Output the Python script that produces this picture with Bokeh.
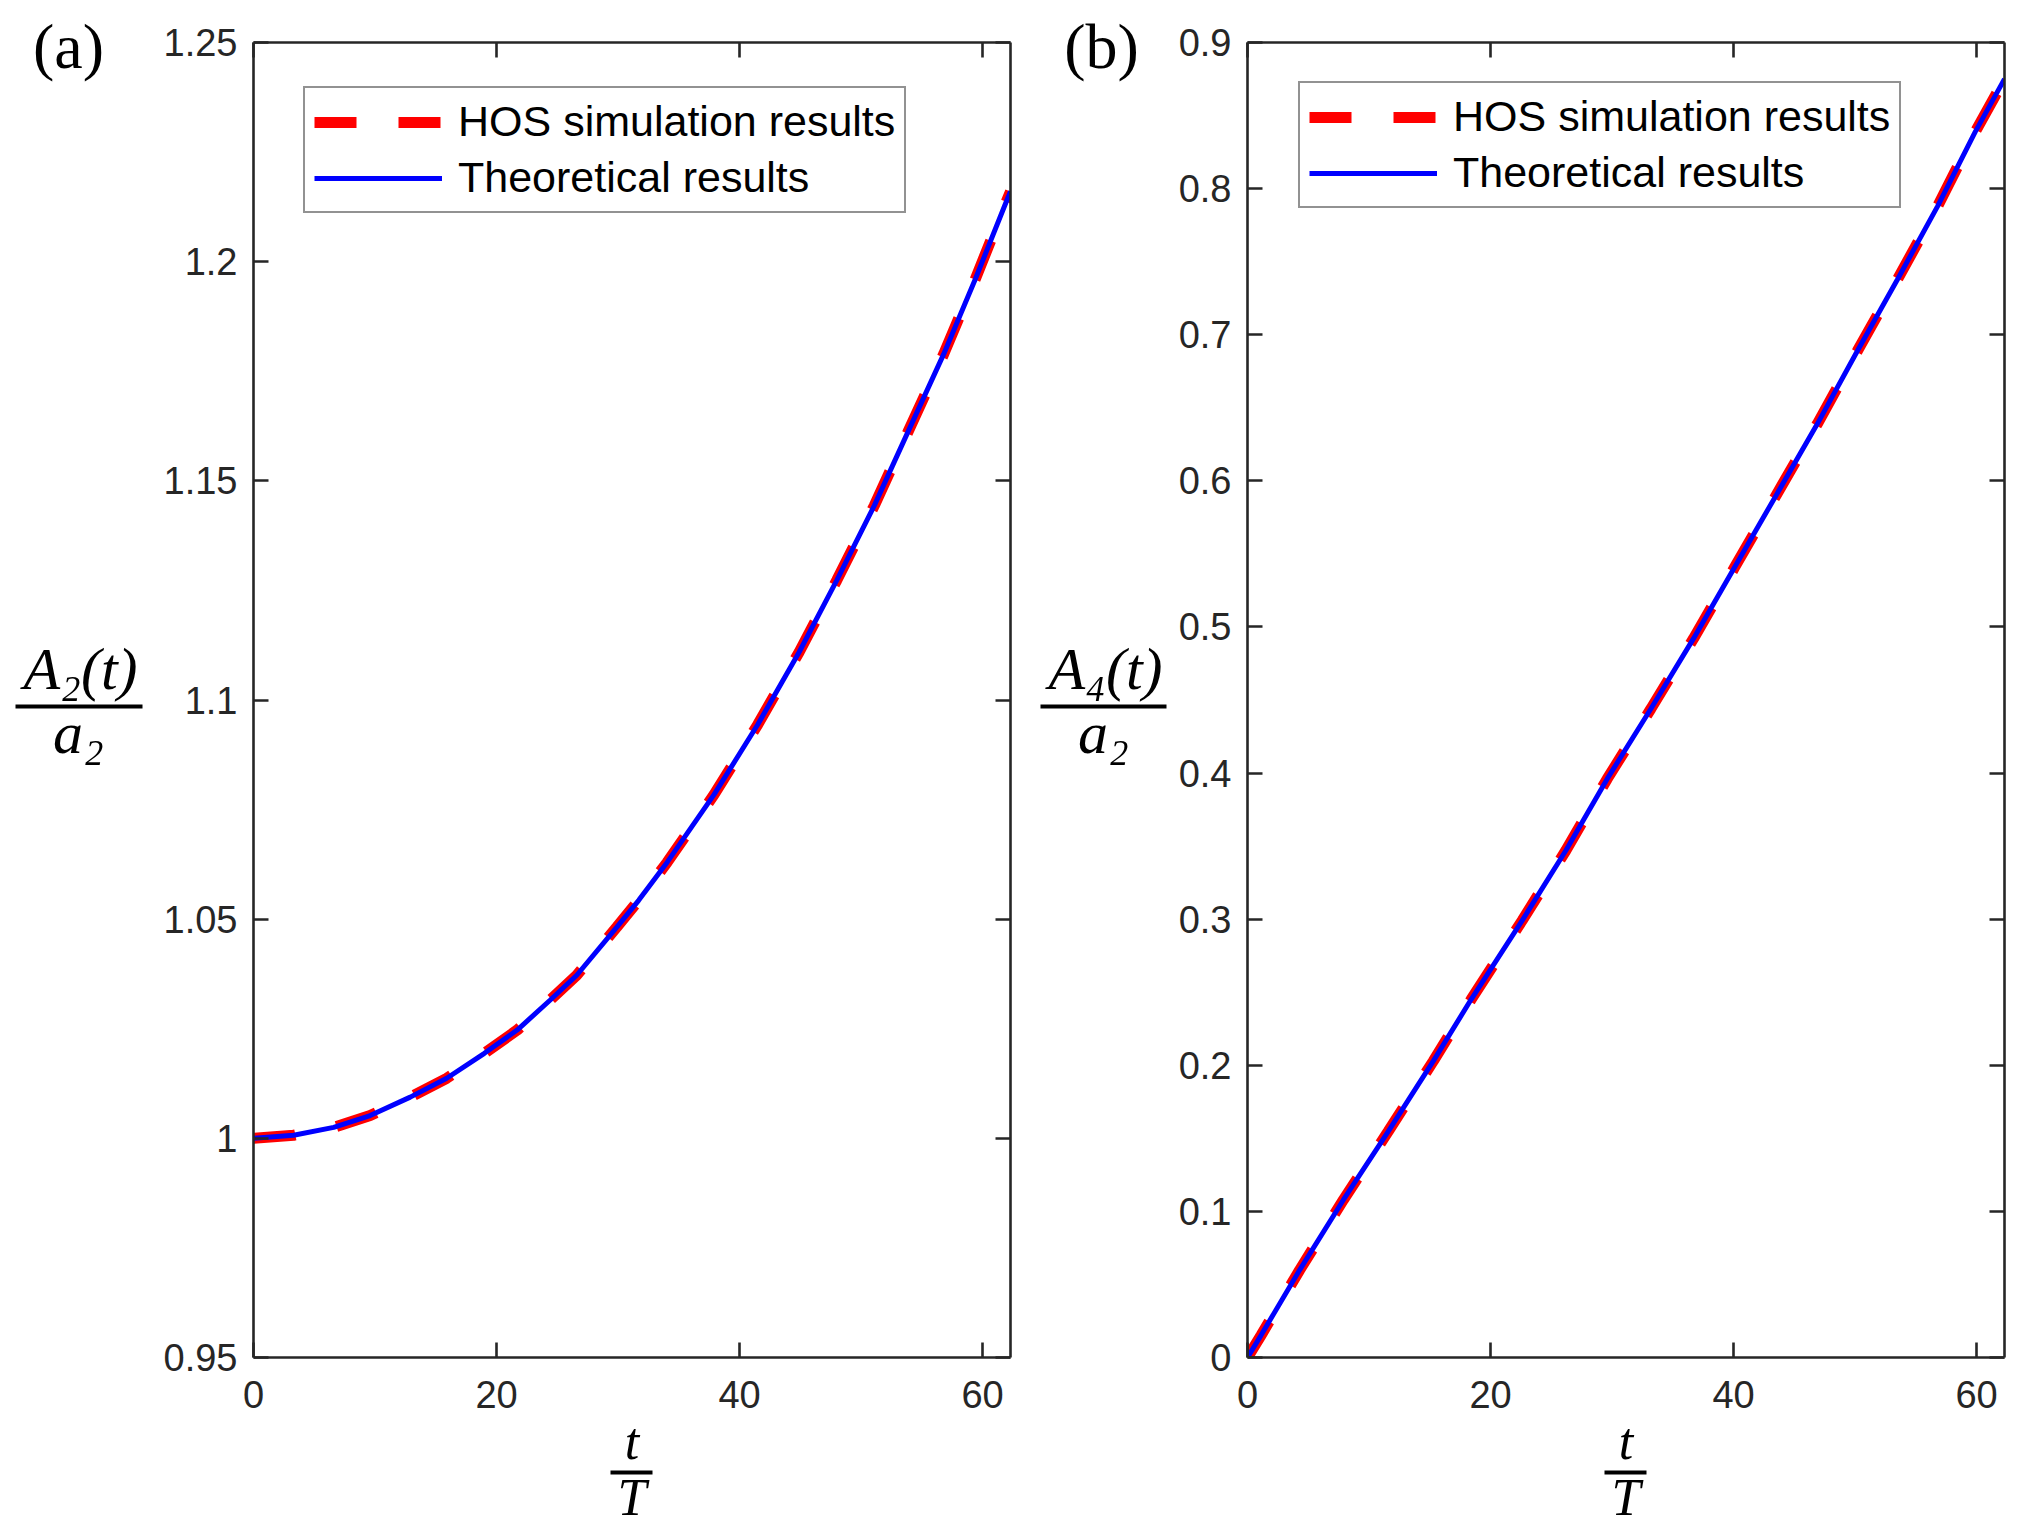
from bokeh.plotting import figure
from bokeh.models import Range1d, LinearAxis, FixedTicker, Legend, LegendItem
from bokeh.layouts import row, column
from bokeh.core.properties import value
from bokeh.embed import file_html
from bokeh.resources import INLINE

# ---------------- data ----------------
t_a = [0, 3.3, 6.6, 9.6, 12.9, 15.9, 19.0, 21.7, 24.4, 26.6, 29.9, 31.7,
       34.05, 37.9, 41.5, 44.9, 48.0, 51.1, 53.9, 56.8, 59.4, 62.0, 62.3]
A2_hos = [1.0, 1.0007, 1.0025, 1.0052, 1.0094, 1.0137, 1.0194, 1.0247, 1.0315,
          1.0372, 1.0482, 1.0543, 1.0630, 1.0784, 1.0944, 1.1109, 1.1273,
          1.1444, 1.1614, 1.1789, 1.1960, 1.2140, 1.2160]
A2_theory = [1.0, 1.0007, 1.0025, 1.0052, 1.0094, 1.0137, 1.0194, 1.0247, 1.0315,
             1.0372, 1.0482, 1.0543, 1.0630, 1.0784, 1.0944, 1.1109, 1.1273,
             1.1444, 1.1614, 1.1789, 1.1960, 1.2140, 1.2160]

t_b = [0, 1.1, 4.3, 7.9, 11.6, 15.3, 18.4, 22.6, 26.2, 29.6, 33.2, 36.7,
       40.1, 43.5, 46.9, 50.2, 53.5, 56.8, 59.9, 62.1, 62.3]
A4_hos = [0, 0.015, 0.060, 0.108, 0.155, 0.203, 0.245, 0.299, 0.347, 0.396,
          0.444, 0.492, 0.541, 0.590, 0.639, 0.689, 0.738, 0.788, 0.839, 0.872, 0.875]
A4_theory = [0, 0.015, 0.060, 0.108, 0.155, 0.203, 0.245, 0.299, 0.347, 0.396,
             0.444, 0.492, 0.541, 0.590, 0.639, 0.689, 0.738, 0.788, 0.839, 0.872, 0.875]

x_ticks = [0, 20, 40, 60]
x_tick_labels = ["0", "20", "40", "60"]
ya_ticks = [0.95, 1.0, 1.05, 1.1, 1.15, 1.2, 1.25]
ya_tick_labels = ["0.95", "1", "1.05", "1.1", "1.15", "1.2", "1.25"]
yb_ticks = [0, 0.1, 0.2, 0.3, 0.4, 0.5, 0.6, 0.7, 0.8, 0.9]
yb_tick_labels = ["0", "0.1", "0.2", "0.3", "0.4", "0.5", "0.6", "0.7", "0.8", "0.9"]

series_labels = ["HOS simulation results", "Theoretical results"]
panel_tags = ["(a)", "(b)"]
ylabel_num = ["A\u2082(t)", "A\u2084(t)"]
ylabel_den = "a\u2082"
xlabel_num = "t"
xlabel_den = "T"

AX = "#262626"
RED = "#ff0000"
BLUE = "#0000ff"
TICK_FONT = "Liberation Sans"
MATH_FONT = "Liberation Serif"
STRIP_H = 1530


def style_axis(ax, ticks, labels, show):
    ax.ticker = FixedTicker(ticks=ticks)
    ax.axis_line_color = AX
    ax.axis_line_width = 2.6
    ax.major_tick_line_color = AX
    ax.major_tick_line_width = 2.6
    ax.major_tick_in = 15
    ax.major_tick_out = 0
    ax.minor_tick_line_color = None
    ax.major_label_text_font = TICK_FONT
    ax.major_label_text_color = AX
    if show:
        ax.major_label_overrides = {tk: lb for tk, lb in zip(ticks, labels)}
        ax.major_label_text_font_size = "38px"
    else:
        ax.major_label_overrides = {tk: "" for tk in ticks}
        ax.major_label_text_font_size = "0px"
        ax.major_label_standoff = 0


def blank(width, height):
    f = figure(width=width, height=height, output_backend="svg", toolbar_location=None,
               x_range=Range1d(0, width), y_range=Range1d(height, 0),
               x_axis_type=None, y_axis_type=None, min_border=0,
               min_border_left=0, min_border_right=0, min_border_top=0, min_border_bottom=0)
    f.outline_line_color = None
    f.background_fill_color = "white"
    f.border_fill_color = "white"
    return f


def math_text(f, x, y, txt, size, italic=True):
    f.text(x=[x], y=[y], text=[txt], text_font=value(MATH_FONT),
           text_font_size=value(size), text_font_style="italic" if italic else "normal",
           text_color="black", text_align="center", text_baseline="alphabetic")


def main_panel(mb_left, mb_right, t, hos, theory, yr, yticks, ylabels, legend_loc):
    p = figure(frame_width=757, frame_height=1315, output_backend="svg",
               toolbar_location=None,
               x_range=Range1d(0, 62.3), y_range=Range1d(*yr),
               min_border_left=mb_left, min_border_right=mb_right,
               min_border_top=42, min_border_bottom=0)
    p.outline_line_color = None
    p.xgrid.visible = False
    p.ygrid.visible = False
    p.background_fill_color = "white"
    p.border_fill_color = "white"

    # bottom axis with tick labels, numerator "t" as its label
    xa = p.xaxis[0]
    style_axis(xa, x_ticks, x_tick_labels, True)
    xa.major_label_standoff = 23
    xa.axis_label = xlabel_num
    xa.axis_label_text_font = MATH_FONT
    xa.axis_label_text_font_style = "italic"
    xa.axis_label_text_font_size = "52px"
    xa.axis_label_text_color = "black"
    xa.axis_label_standoff = 2

    # second bottom axis: its short line is the fraction bar, its label "T"
    frac = LinearAxis(ticker=FixedTicker(ticks=[]), bounds=(29.4, 32.8))
    frac.axis_line_color = "black"
    frac.axis_line_width = 4
    frac.major_tick_line_color = None
    frac.minor_tick_line_color = None
    frac.major_label_text_font_size = "0px"
    frac.major_label_standoff = 0
    frac.axis_label = xlabel_den
    frac.axis_label_text_font = MATH_FONT
    frac.axis_label_text_font_style = "italic"
    frac.axis_label_text_font_size = "52px"
    frac.axis_label_text_color = "black"
    frac.axis_label_standoff = -4
    p.add_layout(frac, "below")

    style_axis(p.yaxis[0], yticks, ylabels, True)
    p.yaxis[0].major_label_standoff = 16
    top = LinearAxis()
    style_axis(top, x_ticks, x_tick_labels, False)
    p.add_layout(top, "above")
    right = LinearAxis()
    style_axis(right, yticks, ylabels, False)
    p.add_layout(right, "right")

    r_red = p.line(t, hos, line_color=RED, line_width=11, line_dash="42 42")
    r_blue = p.line(t, theory, line_color=BLUE, line_width=5)

    legend = Legend(items=[LegendItem(label=series_labels[0], renderers=[r_red]),
                           LegendItem(label=series_labels[1], renderers=[r_blue])],
                    location=legend_loc, margin=0, padding=9, spacing=7,
                    glyph_width=128, glyph_height=42, label_height=42,
                    label_standoff=16,
                    label_text_font=TICK_FONT, label_text_font_size="43px",
                    label_text_color="black",
                    border_line_color=AX, border_line_width=2.6,
                    background_fill_color="white", background_fill_alpha=1.0)
    p.add_layout(legend)
    return p


def ylabel_strip(width, tag_x, num_x, bar_x0, bar_x1, den_x, tag, num):
    f = blank(width, STRIP_H)
    math_text(f, tag_x, 46, tag, "64px", italic=False)
    math_text(f, num_x, 668, num, "60px")
    f.segment(x0=[bar_x0], y0=[706], x1=[bar_x1], y1=[706], line_width=4, line_color="black")
    math_text(f, den_x, 732, ylabel_den, "60px")
    return f


# panel (a): strip 0..158, main 158..1017 (frame 253..1010)
La = ylabel_strip(158, 68, 80, 15, 142, 78, panel_tags[0], ylabel_num[0])
p1 = main_panel(95, 7, t_a, A2_hos, A2_theory, (0.95, 1.25), ya_ticks,
                ya_tick_labels, (50, 1144))

# panel (b): strip 1017..1168, main 1168..2010 (frame 1247..2004)
Lb = ylabel_strip(151, 84, 88, 23, 149, 86, panel_tags[1], ylabel_num[1])
p2 = main_panel(79, 6, t_b, A4_hos, A4_theory, (0, 0.9), yb_ticks,
                yb_tick_labels, (51, 1149))

layout = row(column(La), column(p1), column(Lb), column(p2))
open("out.html", "w").write(file_html(layout, INLINE))
